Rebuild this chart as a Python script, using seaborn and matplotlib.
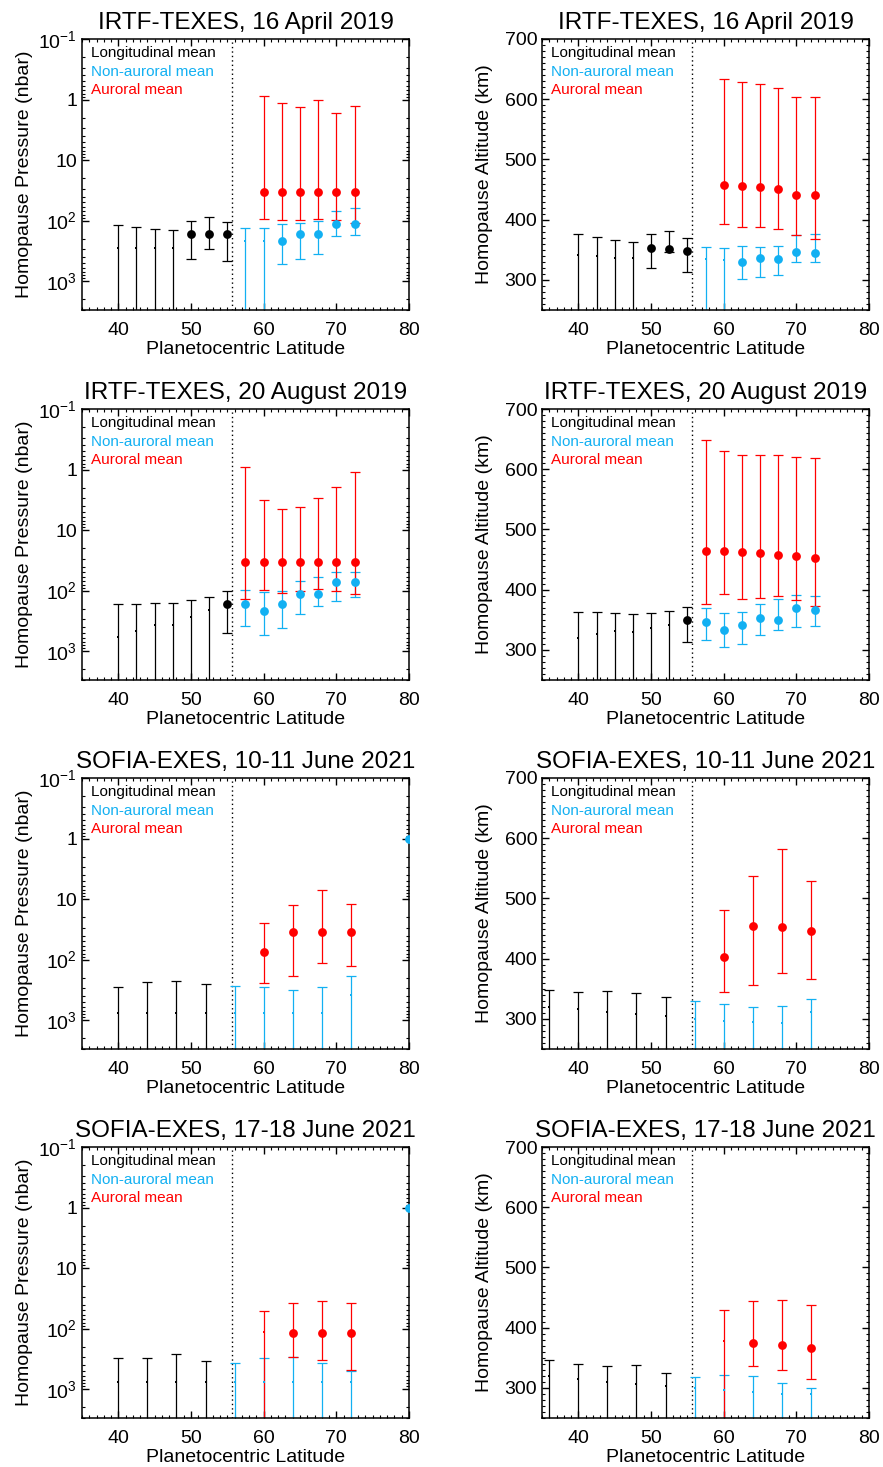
import numpy as np
import matplotlib
matplotlib.use("Agg")
import matplotlib.pyplot as plt
import seaborn as sns
from matplotlib.ticker import MultipleLocator, FixedLocator, FixedFormatter, LogLocator, NullFormatter

# ---------------- data ----------------
TITLES = ["IRTF-TEXES, 16 April 2019", "IRTF-TEXES, 20 August 2019",
          "SOFIA-EXES, 10-11 June 2021", "SOFIA-EXES, 17-18 June 2021"]
LEGEND_LABELS = ["Longitudinal mean", "Non-auroral mean", "Auroral mean"]
X_LABEL = "Planetocentric Latitude"
P_LABEL = "Homopause Pressure (nbar)"
Z_LABEL = "Homopause Altitude (km)"
P_TICKS = [0.1, 1, 10, 100, 1000]
P_TICKLABELS = [r"$10^{-1}$", "1", "10", r"$10^{2}$", r"$10^{3}$"]
BOUNDARY_LAT = 55.6

# --- 16 April 2019 ---
APR_BLK_LAT = [40, 42.5, 45, 47.5, 50, 52.5, 55]
APR_BLK_BIG = [0, 0, 0, 0, 1, 1, 1]
APR_BLK_P = [283, 283, 283, 283, 166, 166, 166]
APR_BLK_P_LO = [119, 130, 137, 143, 101, 88, 105]
APR_BLK_P_HI = [1e4, 1e4, 1e4, 1e4, 436, 290, 464]
APR_BLK_Z = [340.6, 339, 337, 335.6, 353, 351, 348]
APR_BLK_Z_LO = [150, 150, 150, 150, 319.4, 345.6, 312.8]
APR_BLK_Z_HI = [376.7, 371.7, 366.7, 362.8, 376.7, 382, 369]

APR_BLU_LAT = [57.5, 60, 62.5, 65, 67.5, 70, 72.5]
APR_BLU_BIG = [0, 0, 1, 1, 1, 1, 1]
APR_BLU_P = [217, 217, 220, 166, 166, 116, 116]
APR_BLU_P_LO = [134, 134, 114, 109, 101, 69, 63]
APR_BLU_P_HI = [1e4, 1e4, 520, 430, 351, 182, 173]
APR_BLU_Z = [335, 333, 328.9, 336.7, 334.4, 346.7, 344.4]
APR_BLU_Z_LO = [150, 150, 301.7, 305, 308.3, 328.9, 328.9]
APR_BLU_Z_HI = [354.4, 352.2, 356, 355, 356, 374.4, 375.6]

APR_RED_LAT = [60, 62.5, 65, 67.5, 70, 72.5]
APR_RED_BIG = [1, 1, 1, 1, 1, 1]
APR_RED_P = [34, 34, 34, 34, 34, 34]
APR_RED_P_LO = [0.86, 1.15, 1.32, 1.01, 1.68, 1.29]
APR_RED_P_HI = [93, 99, 96, 95, 97, 111]
APR_RED_Z = [458, 456.7, 454.4, 450.6, 441.7, 440.6]
APR_RED_Z_LO = [393, 387.8, 387, 384.4, 375, 368.3]
APR_RED_Z_HI = [633, 629, 626, 619.4, 603.9, 604.4]

# --- 20 August 2019 ---
AUG_BLK_LAT = [40, 42.5, 45, 47.5, 50, 52.5, 55]
AUG_BLK_BIG = [0, 0, 0, 0, 0, 0, 1]
AUG_BLK_P = [590, 464, 365, 365, 272, 211, 166]
AUG_BLK_P_LO = [168, 168, 162, 158, 143, 130, 101]
AUG_BLK_P_HI = [1e4, 1e4, 1e4, 1e4, 1e4, 1e4, 500]
AUG_BLK_Z = [320, 326, 332, 330, 336.7, 342, 350]
AUG_BLK_Z_LO = [150, 150, 150, 150, 150, 150, 312.8]
AUG_BLK_Z_HI = [362.8, 362.8, 361, 359.4, 361, 364.4, 371]

AUG_BLU_LAT = [57.5, 60, 62.5, 65, 67.5, 70, 72.5]
AUG_BLU_BIG = [1, 1, 1, 1, 1, 1, 1]
AUG_BLU_P = [164, 217, 164, 116, 116, 72, 72]
AUG_BLU_P_LO = [96, 107, 101, 70, 60, 50, 49]
AUG_BLU_P_HI = [379, 534, 414, 243, 182, 148, 126]
AUG_BLU_Z = [345.6, 333.3, 341, 353.3, 350, 370, 366.7]
AUG_BLU_Z_LO = [316.7, 305, 310, 323.9, 332.8, 337.2, 340]
AUG_BLU_Z_HI = [370, 361, 363.3, 376.7, 384.4, 390.6, 388.9]

AUG_RED_LAT = [57.5, 60, 62.5, 65, 67.5, 70, 72.5]
AUG_RED_BIG = [1, 1, 1, 1, 1, 1, 1]
AUG_RED_P = [34, 34, 34, 34, 34, 34, 34]
AUG_RED_P_LO = [0.91, 3.17, 4.47, 4.14, 2.90, 1.96, 1.11]
AUG_RED_P_HI = [137, 97, 108, 103, 95, 103, 116]
AUG_RED_Z = [465, 465, 462, 460.6, 458, 455.6, 452]
AUG_RED_Z_LO = [376, 393, 384, 386.7, 389.4, 383.3, 373.3]
AUG_RED_Z_HI = [647.8, 631, 622.8, 623.3, 623.3, 621, 618]

# --- 10-11 June 2021 ---
J10_BLK_P_LAT = [40, 44, 48, 52]
J10_BLK_P_BIG = [0, 0, 0, 0]
J10_BLK_P = [770, 770, 770, 770]
J10_BLK_P_LO = [288, 238, 226, 251]
J10_BLK_P_HI = [1e4, 1e4, 1e4, 1e4]
J10_BLK_Z_LAT = [36, 40, 44, 48, 52]
J10_BLK_Z_BIG = [0, 0, 0, 0, 0]
J10_BLK_Z = [319.4, 316, 311.7, 308.3, 304]
J10_BLK_Z_LO = [150, 150, 150, 150, 150]
J10_BLK_Z_HI = [348.3, 343.9, 346, 343.3, 336]

J10_BLU_P_LAT = [56, 60, 64, 68, 72, 80]
J10_BLU_P_BIG = [0, 0, 0, 0, 0, 1]
J10_BLU_P = [770, 770, 770, 770, 387, 1]
J10_BLU_P_LO = [277, 285, 315, 285, 187, 1]
J10_BLU_P_HI = [1e4, 1e4, 1e4, 1e4, 1e4, 1]
J10_BLU_Z_LAT = [56, 60, 64, 68, 72]
J10_BLU_Z_BIG = [0, 0, 0, 0, 0]
J10_BLU_Z = [300.6, 297, 295.6, 293, 311]
J10_BLU_Z_LO = [150, 150, 150, 150, 150]
J10_BLU_Z_HI = [329.4, 325, 319.4, 321, 332.8]

J10_RED_LAT = [60, 64, 68, 72]
J10_RED_BIG = [1, 1, 1, 1]
J10_RED_P = [75, 35, 35, 35]
J10_RED_P_LO = [25, 12.3, 7.0, 12.0]
J10_RED_P_HI = [244, 185, 114, 127]
J10_RED_Z = [402, 454.4, 452, 446]
J10_RED_Z_LO = [345, 356, 376, 366.7]
J10_RED_Z_HI = [481, 537.8, 582.8, 529.4]

# --- 17-18 June 2021 ---
J17_BLK_P_LAT = [40, 44, 48, 52]
J17_BLK_P_BIG = [0, 0, 0, 0]
J17_BLK_P = [755, 755, 755, 755]
J17_BLK_P_LO = [310, 310, 263, 344]
J17_BLK_P_HI = [1e4, 1e4, 1e4, 1e4]
J17_BLK_Z_LAT = [36, 40, 44, 48, 52]
J17_BLK_Z_BIG = [0, 0, 0, 0, 0]
J17_BLK_Z = [319.4, 315, 310.6, 306.7, 302.8]
J17_BLK_Z_LO = [150, 150, 150, 150, 150]
J17_BLK_Z_HI = [347, 340, 336, 337.8, 324.4]

J17_BLU_P_LAT = [56, 60, 64, 68, 72, 80]
J17_BLU_P_BIG = [0, 0, 0, 0, 0, 1]
J17_BLU_P = [755, 755, 755, 755, 755, 1]
J17_BLU_P_LO = [371, 306, 299, 371, 497, 1]
J17_BLU_P_HI = [1e4, 1e4, 1e4, 1e4, 1e4, 1]
J17_BLU_Z_LAT = [56, 60, 64, 68, 72]
J17_BLU_Z_BIG = [0, 0, 0, 0, 0]
J17_BLU_Z = [299.4, 296.7, 293.9, 290, 290]
J17_BLU_Z_LO = [150, 150, 150, 150, 150]
J17_BLU_Z_HI = [318.3, 321.7, 320, 308.3, 300]

J17_RED_LAT = [60, 64, 68, 72]
J17_RED_BIG = [0, 1, 1, 1]
J17_RED_P = [116, 119, 119, 119]
J17_RED_P_LO = [51, 38, 35, 38]
J17_RED_P_HI = [1e4, 299, 331, 478]
J17_RED_Z = [377.8, 373.9, 370.6, 366.7]
J17_RED_Z_LO = [150, 336.7, 330, 315]
J17_RED_Z_HI = [430, 444.4, 446.7, 437.8]

BLACK = "#000000"
BLUE = "#12B0F2"
RED = "#FF0000"

# panels: rows x (pressure, altitude); each series = (lat, val, lo, hi, big, color)
PANELS = [
    [
        [(APR_BLK_LAT, APR_BLK_P, APR_BLK_P_LO, APR_BLK_P_HI, APR_BLK_BIG, BLACK),
         (APR_BLU_LAT, APR_BLU_P, APR_BLU_P_LO, APR_BLU_P_HI, APR_BLU_BIG, BLUE),
         (APR_RED_LAT, APR_RED_P, APR_RED_P_LO, APR_RED_P_HI, APR_RED_BIG, RED)],
        [(APR_BLK_LAT, APR_BLK_Z, APR_BLK_Z_LO, APR_BLK_Z_HI, APR_BLK_BIG, BLACK),
         (APR_BLU_LAT, APR_BLU_Z, APR_BLU_Z_LO, APR_BLU_Z_HI, APR_BLU_BIG, BLUE),
         (APR_RED_LAT, APR_RED_Z, APR_RED_Z_LO, APR_RED_Z_HI, APR_RED_BIG, RED)],
    ],
    [
        [(AUG_BLK_LAT, AUG_BLK_P, AUG_BLK_P_LO, AUG_BLK_P_HI, AUG_BLK_BIG, BLACK),
         (AUG_BLU_LAT, AUG_BLU_P, AUG_BLU_P_LO, AUG_BLU_P_HI, AUG_BLU_BIG, BLUE),
         (AUG_RED_LAT, AUG_RED_P, AUG_RED_P_LO, AUG_RED_P_HI, AUG_RED_BIG, RED)],
        [(AUG_BLK_LAT, AUG_BLK_Z, AUG_BLK_Z_LO, AUG_BLK_Z_HI, AUG_BLK_BIG, BLACK),
         (AUG_BLU_LAT, AUG_BLU_Z, AUG_BLU_Z_LO, AUG_BLU_Z_HI, AUG_BLU_BIG, BLUE),
         (AUG_RED_LAT, AUG_RED_Z, AUG_RED_Z_LO, AUG_RED_Z_HI, AUG_RED_BIG, RED)],
    ],
    [
        [(J10_BLK_P_LAT, J10_BLK_P, J10_BLK_P_LO, J10_BLK_P_HI, J10_BLK_P_BIG, BLACK),
         (J10_BLU_P_LAT, J10_BLU_P, J10_BLU_P_LO, J10_BLU_P_HI, J10_BLU_P_BIG, BLUE),
         (J10_RED_LAT, J10_RED_P, J10_RED_P_LO, J10_RED_P_HI, J10_RED_BIG, RED)],
        [(J10_BLK_Z_LAT, J10_BLK_Z, J10_BLK_Z_LO, J10_BLK_Z_HI, J10_BLK_Z_BIG, BLACK),
         (J10_BLU_Z_LAT, J10_BLU_Z, J10_BLU_Z_LO, J10_BLU_Z_HI, J10_BLU_Z_BIG, BLUE),
         (J10_RED_LAT, J10_RED_Z, J10_RED_Z_LO, J10_RED_Z_HI, J10_RED_BIG, RED)],
    ],
    [
        [(J17_BLK_P_LAT, J17_BLK_P, J17_BLK_P_LO, J17_BLK_P_HI, J17_BLK_P_BIG, BLACK),
         (J17_BLU_P_LAT, J17_BLU_P, J17_BLU_P_LO, J17_BLU_P_HI, J17_BLU_P_BIG, BLUE),
         (J17_RED_LAT, J17_RED_P, J17_RED_P_LO, J17_RED_P_HI, J17_RED_BIG, RED)],
        [(J17_BLK_Z_LAT, J17_BLK_Z, J17_BLK_Z_LO, J17_BLK_Z_HI, J17_BLK_Z_BIG, BLACK),
         (J17_BLU_Z_LAT, J17_BLU_Z, J17_BLU_Z_LO, J17_BLU_Z_HI, J17_BLU_Z_BIG, BLUE),
         (J17_RED_LAT, J17_RED_Z, J17_RED_Z_LO, J17_RED_Z_HI, J17_RED_BIG, RED)],
    ],
]

# ---------------- style ----------------
sns.set_theme(style="ticks")
plt.rcParams["font.family"] = ["Liberation Sans", "DejaVu Sans"]
plt.rcParams["mathtext.fontset"] = "custom"
plt.rcParams["mathtext.rm"] = "Liberation Sans"
plt.rcParams["mathtext.it"] = "Liberation Sans:italic"
plt.rcParams["mathtext.default"] = "regular"
plt.rcParams["axes.linewidth"] = 1.1
plt.rcParams["axes.edgecolor"] = "black"
plt.rcParams["text.color"] = "black"
plt.rcParams["axes.labelcolor"] = "black"
plt.rcParams["axes.titlecolor"] = "black"
plt.rcParams["xtick.color"] = "black"
plt.rcParams["ytick.color"] = "black"

fig = plt.figure(figsize=(8.83, 14.67), dpi=100)
W, H = 883.0, 1467.0
lefts = [82, 542]
tops = [39, 409, 778, 1147]
aw, ah = 327, 271

for r in range(4):
    for c in range(2):
        ax = fig.add_axes([lefts[c] / W, 1 - (tops[r] + ah) / H, aw / W, ah / H])
        pressure = (c == 0)
        for lat, val, lo, hi, big, color in PANELS[r][c]:
            lat = np.asarray(lat, float); val = np.asarray(val, float)
            lo = np.asarray(lo, float); hi = np.asarray(hi, float)
            big = np.asarray(big, bool)
            m = hi > lo
            ax.errorbar(lat[m], val[m], yerr=[val[m] - lo[m], hi[m] - val[m]],
                        fmt="none", ecolor=color, elinewidth=0.9, capsize=3.8,
                        capthick=0.9, zorder=2)
            if big.any():
                sns.scatterplot(x=lat[big], y=val[big], ax=ax, color=color, s=40,
                                linewidth=0, zorder=3)
            if (~big).any():
                sns.scatterplot(x=lat[~big], y=val[~big], ax=ax, color=color, s=3,
                                marker="s", linewidth=0, zorder=3)
        ax.axvline(BOUNDARY_LAT, color="black", linestyle=(0, (1, 2.2)), lw=1.0, zorder=1)

        ax.set_xlim(35, 80)
        ax.xaxis.set_major_locator(MultipleLocator(10))
        ax.xaxis.set_minor_locator(MultipleLocator(1))
        if pressure:
            ax.set_yscale("log")
            ax.set_ylim(3000, 0.1)
            ax.yaxis.set_major_locator(FixedLocator(P_TICKS))
            ax.yaxis.set_major_formatter(FixedFormatter(P_TICKLABELS))
            ax.yaxis.set_minor_locator(LogLocator(base=10, subs=np.arange(2, 10)))
            ax.yaxis.set_minor_formatter(NullFormatter())
            ax.set_ylabel(P_LABEL, fontsize=14)
        else:
            ax.set_ylim(250, 700)
            ax.yaxis.set_major_locator(MultipleLocator(100))
            ax.yaxis.set_minor_locator(MultipleLocator(10))
            ax.set_ylabel(Z_LABEL, fontsize=14)
        ax.set_xlabel(X_LABEL, fontsize=14)
        ax.yaxis.set_label_coords(-0.15, 0.5)
        ax.xaxis.set_label_coords(0.5, -0.116)
        ax.tick_params(which="both", direction="in", top=True, right=True,
                       colors="black", labelsize=14)
        ax.tick_params(which="major", length=5, width=1)
        ax.tick_params(which="minor", length=2.5, width=0.8)
        ax.tick_params(axis="x", which="major", pad=8.5)
        ax.tick_params(axis="y", which="major", pad=3.5)
        ax.set_title(TITLES[r], fontsize=17.5, pad=7, color="black")

        for lab, col, yy in zip(LEGEND_LABELS, [BLACK, BLUE, RED], [0.948, 0.880, 0.812]):
            ax.text(0.027, yy, lab, color=col, transform=ax.transAxes,
                    va="center", ha="left", fontsize=11)

fig.savefig("out.png", dpi=100)
